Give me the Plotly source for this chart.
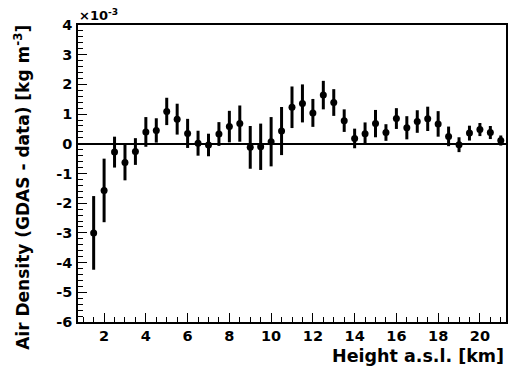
import plotly.graph_objects as go

# Height a.s.l. [km]
height_km = [1.5, 2.0, 2.5, 3.0, 3.5, 4.0, 4.5, 5.0, 5.5, 6.0, 6.5, 7.0, 7.5, 8.0,
             8.5, 9.0, 9.5, 10.0, 10.5, 11.0, 11.5, 12.0, 12.5, 13.0, 13.5, 14.0,
             14.5, 15.0, 15.5, 16.0, 16.5, 17.0, 17.5, 18.0, 18.5, 19.0, 19.5,
             20.0, 20.5, 21.0]
# Air density difference (GDAS - data) in units of 1e-3 kg m^-3
density_diff = [-3.00, -1.57, -0.28, -0.63, -0.26, 0.40, 0.45, 1.09, 0.83, 0.35,
                0.02, -0.04, 0.33, 0.58, 0.68, -0.12, -0.10, 0.07, 0.43, 1.23,
                1.36, 1.04, 1.64, 1.39, 0.78, 0.18, 0.34, 0.68, 0.38, 0.85,
                0.54, 0.75, 0.84, 0.67, 0.25, -0.03, 0.36, 0.48, 0.38, 0.11]
density_err = [1.24, 1.07, 0.52, 0.60, 0.45, 0.50, 0.41, 0.46, 0.52, 0.49,
               0.42, 0.38, 0.40, 0.53, 0.61, 0.72, 0.78, 0.83, 0.81, 0.70,
               0.64, 0.47, 0.48, 0.45, 0.38, 0.33, 0.38, 0.46, 0.28, 0.35,
               0.39, 0.38, 0.41, 0.43, 0.33, 0.25, 0.25, 0.22, 0.22, 0.17]

y_tickvals = [-6, -5, -4, -3, -2, -1, 0, 1, 2, 3, 4]
y_ticktext = ["-6", "-5", "-4", "-3", "-2", "-1", "0", "1", "2", "3", "4"]
x_tickvals = [2, 4, 6, 8, 10, 12, 14, 16, 18, 20]
x_ticktext = ["2", "4", "6", "8", "10", "12", "14", "16", "18", "20"]

FONT = "DejaVu Sans"

fig = go.Figure()
fig.add_trace(go.Scatter(
    x=height_km, y=density_diff, mode="markers",
    marker=dict(color="black", size=7, symbol="circle"),
    error_y=dict(type="data", array=density_err, visible=True,
                 color="black", thickness=3, width=0),
    showlegend=False, hoverinfo="skip",
))

fig.update_layout(
    width=511, height=370,
    margin=dict(l=78, r=3, t=25, b=48),
    paper_bgcolor="white", plot_bgcolor="white",
    font=dict(family=FONT, color="black", size=14, weight="bold"),
    xaxis=dict(
        range=[0.75, 21.25], showgrid=False, zeroline=False,
        showline=True, linecolor="black", linewidth=1.5, mirror=True,
        ticks="inside", ticklen=9, tickwidth=1.2, tickcolor="black",
        tickvals=x_tickvals, ticktext=x_ticktext,
        tickfont=dict(family=FONT, size=14.5, weight="bold"),
        minor=dict(ticks="inside", ticklen=5, dtick=0.5, tick0=0,
                   tickcolor="black", tickwidth=1.2, showgrid=False),
    ),
    yaxis=dict(
        range=[-6, 4], showgrid=False,
        zeroline=True, zerolinecolor="black", zerolinewidth=1.5,
        showline=True, linecolor="black", linewidth=1.5, mirror=True,
        ticks="inside", ticklen=9, tickwidth=1.2, tickcolor="black",
        tickvals=y_tickvals, ticktext=y_ticktext,
        tickfont=dict(family=FONT, size=14.5, weight="bold"),
        ticklabelstandoff=1,
        minor=dict(ticks="inside", ticklen=5, dtick=0.2, tick0=0,
                   tickcolor="black", tickwidth=1.2, showgrid=False),
    ),
    annotations=[
        dict(text="<b>Height a.s.l. [km]</b>", xref="paper", yref="paper",
             x=1.0, y=-0.074, xanchor="right", yanchor="top", showarrow=False,
             font=dict(family=FONT, size=17.5)),
        dict(text="<b>Air Density (GDAS - data) [kg m<sup>-3</sup>]</b>",
             xref="paper", yref="paper", x=-0.130, y=0.453,
             xanchor="center", yanchor="middle", textangle=-90, showarrow=False,
             font=dict(family=FONT, size=17)),
        dict(text="<b>\u00d710<sup>-3</sup></b>", xref="paper", yref="paper",
             x=-0.003, y=1.0, xanchor="left", yanchor="bottom", showarrow=False,
             font=dict(family=FONT, size=13)),
    ],
)

fig.write_html("out.html", config={"displayModeBar": False},
               post_script="document.body.style.margin='0';document.body.style.overflow='hidden';")
